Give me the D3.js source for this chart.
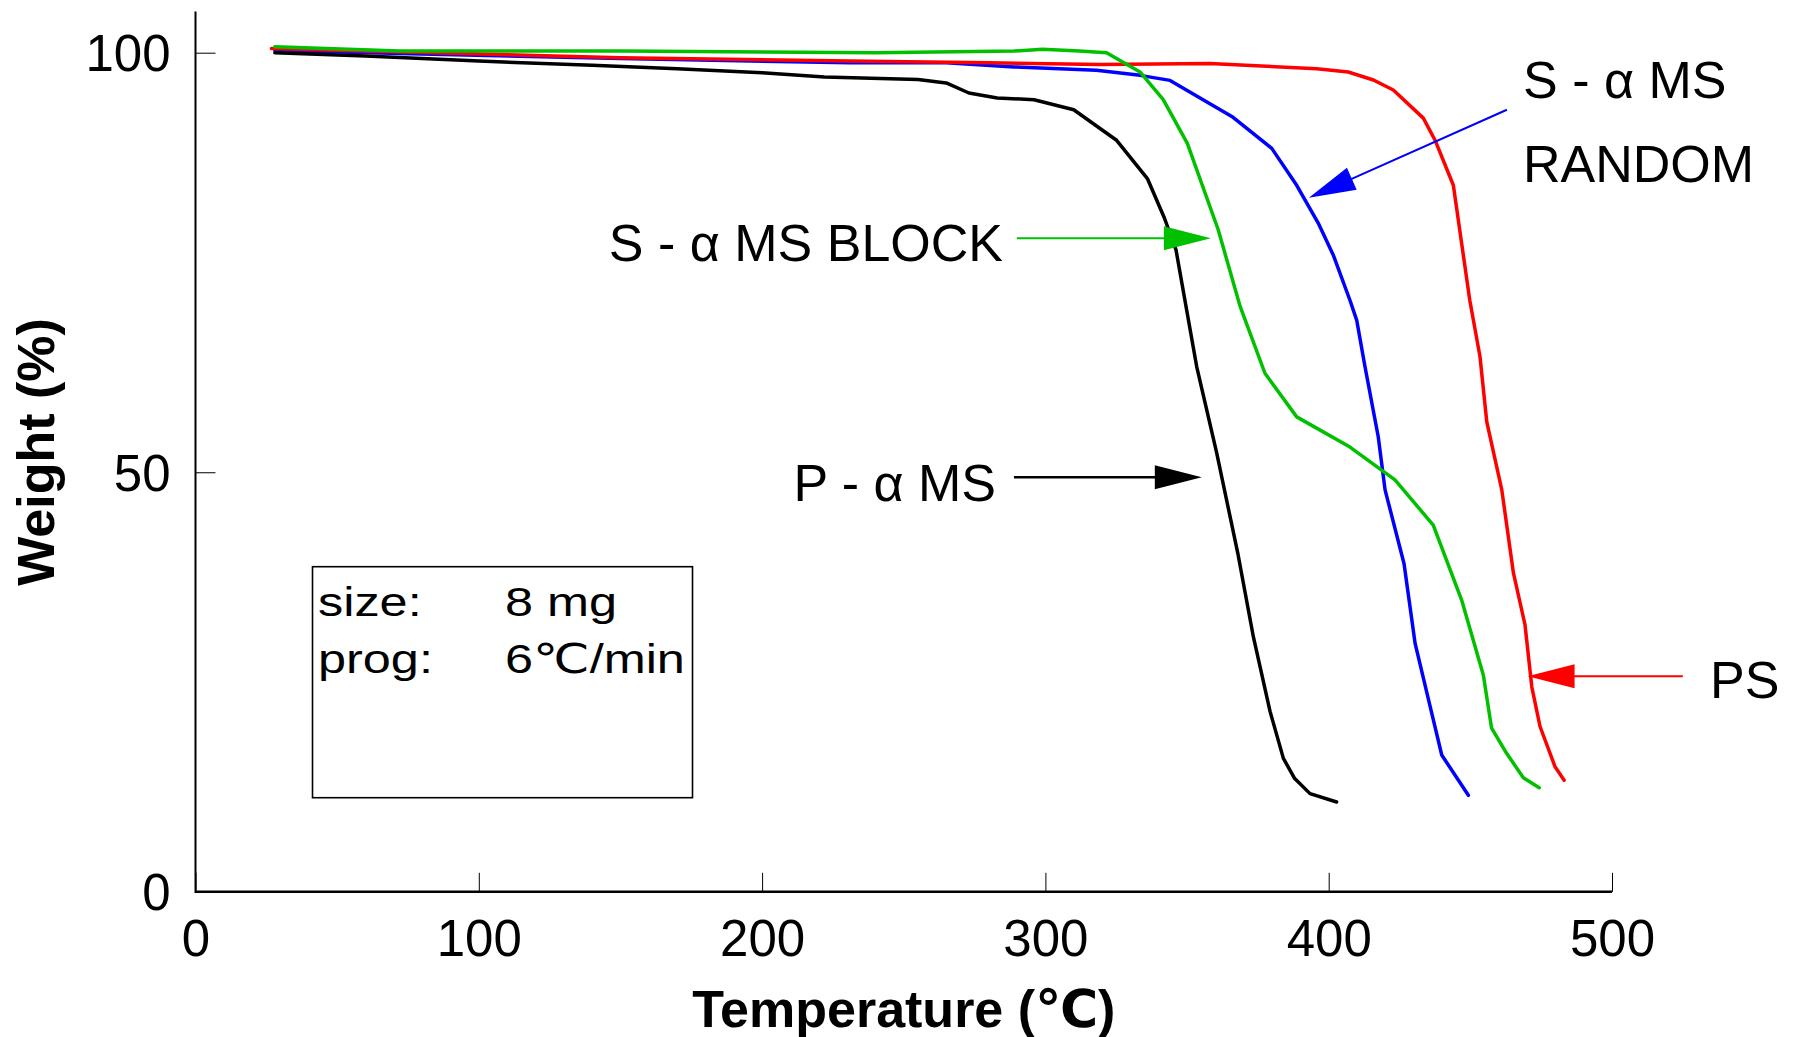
<!DOCTYPE html>
<html><head><meta charset="utf-8">
<script src="https://cdn.jsdelivr.net/npm/d3@7"></script>
<style>
html,body{margin:0;padding:0;background:#fff;}
svg{display:block;}
text{font-family:"Liberation Sans",Arial,Helvetica,"DejaVu Sans",sans-serif;fill:#000;}
</style></head><body>
<svg id="chart" width="1795" height="1037"></svg>
<script>
// ---------------- data ----------------
const xTickValues = [0, 100, 200, 300, 400, 500];
const yTickValues = [0, 50, 100];
const xTitle = "Temperature (℃)";
const yTitle = "Weight (%)";

const seriesNames = ["P - α MS", "S - α MS BLOCK", "S - α MS RANDOM", "PS"];

const tempPAMS   = [28, 60, 100, 140, 170, 200, 222, 255, 265, 273, 283, 296, 310, 325, 336, 342, 346.1, 353.4, 360.4, 368, 373.4, 379.3, 384, 388, 393.4, 402.8];
const weightPAMS = [100, 99.6, 99.0, 98.5, 98.1, 97.6, 97.1, 96.8, 96.4, 95.2, 94.6, 94.4, 93.2, 89.6, 85.0, 80.3, 76.5, 62.6, 52.4, 40.2, 30.4, 21.5, 15.9, 13.5, 11.7, 10.7];

const tempBlock   = [28, 72, 150, 240, 289, 299, 312, 321.6, 333.4, 341.6, 350.1, 361, 368.7, 377.5, 388.7, 407.5, 423.4, 436.9, 446.9, 454.6, 457.5, 462.8, 468.7, 474.3];
const weightBlock = [100.7, 100.2, 100.2, 100.0, 100.2, 100.4, 100.2, 100.0, 97.7, 94.4, 89.2, 78.9, 69.8, 61.8, 56.6, 53.0, 49.1, 43.7, 34.8, 25.8, 19.5, 16.5, 13.6, 12.4];

const tempRandom   = [28, 72, 150, 231, 265, 289, 318, 333.4, 344, 365.8, 379.9, 388.7, 396.3, 401.6, 407.5, 409.9, 412.8, 417.5, 419.9, 426.6, 430.5, 435.8, 439.9, 449.3];
const weightRandom = [100.3, 99.9, 99.3, 98.8, 98.8, 98.3, 97.9, 97.3, 96.7, 92.4, 88.6, 84.2, 79.7, 75.9, 70.5, 68.1, 62.6, 54.2, 47.9, 39.1, 29.6, 22.1, 16.3, 11.5];

const tempPS   = [26.8, 60, 150, 231, 280, 319, 358, 395.8, 406.9, 415.8, 422.8, 433.4, 437.5, 444, 449.8, 453.4, 455.8, 461.1, 465.2, 469.3, 471.7, 474.6, 479.9, 483.1];
const weightPS = [100.5, 100.2, 99.4, 99.0, 98.8, 98.6, 98.7, 98.1, 97.7, 96.75, 95.55, 92.2, 89.6, 84.2, 70.5, 63.8, 56.0, 47.9, 38.0, 31.8, 24.4, 19.7, 14.9, 13.3];

const infoLabels = ["size:", "prog:"];
const infoValues = ["8 mg", "6℃/min"];

// ---------------- styles / layout ----------------
const colors = {"P - α MS": "#000000", "S - α MS BLOCK": "#00c000", "S - α MS RANDOM": "#0000ff", "PS": "#ff0000"};
const W = 1795, H = 1037;
const plot = {left: 195.5, right: 1612, top: 52.7, bottom: 891.8};

// annotation arrows in data units (tail, tip), label anchors in px
const annot = [
  {series: "S - α MS BLOCK", tail: [289.9, 77.9], tip: [358.4, 77.9], lines: ["S - α MS BLOCK"], lx: 1003, ly: [261], anchor: "end", sw: 2},
  {series: "P - α MS",       tail: [288.9, 49.4], tip: [355.2, 49.4], lines: ["P - α MS"],       lx: 996,  ly: [501], anchor: "end", sw: 2.5},
  {series: "S - α MS RANDOM",tail: [462.9, 93.2], tip: [393.0, 82.7], lines: ["S - α MS", "RANDOM"], lx: 1523, ly: [98, 182], anchor: "start", sw: 2},
  {series: "PS",             tail: [525.0, 25.7], tip: [470.2, 25.7], lines: ["PS"],             lx: 1710, ly: [698], anchor: "start", sw: 2}
];

// ---------------- drawing ----------------
const svg = d3.select("#chart");
svg.append("rect").attr("width", W).attr("height", H).attr("fill", "#fff");

const x = d3.scaleLinear().domain([0, 500]).range([plot.left, plot.right]);
const y = d3.scaleLinear().domain([0, 100]).range([plot.bottom, plot.top]);

// x axis
const gx = svg.append("g").attr("transform", `translate(0,${plot.bottom})`)
  .call(d3.axisBottom(x).tickValues(xTickValues).tickSizeInner(-19).tickSizeOuter(0).tickPadding(0).tickFormat(d3.format("d")));
gx.select(".domain").remove();
gx.selectAll(".tick line").attr("stroke", "#000").attr("stroke-width", 1);
gx.selectAll(".tick text").attr("font-size", 51).attr("dy", null).attr("y", 64)
  .style("font-family", '"Liberation Sans",Arial,sans-serif');

// y axis
const gy = svg.append("g").attr("transform", `translate(${plot.left},0)`)
  .call(d3.axisLeft(y).tickValues(yTickValues).tickSizeInner(-20).tickSizeOuter(0).tickPadding(0).tickFormat(d3.format("d")));
gy.select(".domain").remove();
gy.selectAll(".tick line").attr("stroke", "#000").attr("stroke-width", 1);
gy.selectAll(".tick text").attr("font-size", 51).attr("dy", null).attr("x", -25).attr("y", 18)
  .style("font-family", '"Liberation Sans",Arial,sans-serif');

// axis lines
svg.append("line").attr("x1", x(0)).attr("x2", x(500)).attr("y1", y(0)).attr("y2", y(0))
  .attr("stroke", "#000").attr("stroke-width", 2.5);
svg.append("line").attr("x1", x(0)).attr("x2", x(0)).attr("y1", y(0) + 1.2).attr("y2", y(104.9))
  .attr("stroke", "#000").attr("stroke-width", 2);

// axis titles
svg.append("text").attr("x", (plot.left + plot.right) / 2).attr("y", 1027)
  .attr("text-anchor", "middle").attr("font-size", 52).attr("font-weight", "bold").text(xTitle);
svg.append("text").attr("transform", `translate(54,${452}) rotate(-90)`)
  .attr("text-anchor", "middle").attr("font-size", 52).attr("font-weight", "bold").text(yTitle);

// series
const seriesData = [
  {name: "S - α MS RANDOM", t: tempRandom, w: weightRandom},
  {name: "PS", t: tempPS, w: weightPS},
  {name: "S - α MS BLOCK", t: tempBlock, w: weightBlock},
  {name: "P - α MS", t: tempPAMS, w: weightPAMS}
];
const line = d3.line().x(d => x(d[0])).y(d => y(d[1]));
svg.append("g").selectAll("path").data(seriesData).join("path")
  .attr("d", s => line(s.t.map((t, i) => [t, s.w[i]])))
  .attr("fill", "none")
  .attr("stroke", s => colors[s.name])
  .attr("stroke-width", 3.5)
  .attr("stroke-linejoin", "round")
  .attr("stroke-linecap", "round");

// annotations
const headLen = 47, headHalf = 12;
annot.forEach(a => {
  const c = colors[a.series];
  const tx = x(a.tip[0]), ty = y(a.tip[1]);
  const sx = x(a.tail[0]), sy = y(a.tail[1]);
  const dx = tx - sx, dy = ty - sy, L = Math.hypot(dx, dy);
  const ux = dx / L, uy = dy / L;
  const bx = tx - ux * headLen, by = ty - uy * headLen;
  svg.append("line").attr("x1", sx).attr("y1", sy).attr("x2", bx + ux * 2).attr("y2", by + uy * 2)
    .attr("stroke", c).attr("stroke-width", a.sw);
  svg.append("polygon")
    .attr("points", [[tx, ty], [bx - uy * headHalf, by + ux * headHalf], [bx + uy * headHalf, by - ux * headHalf]].map(p => p.join(",")).join(" "))
    .attr("fill", c);
  a.lines.forEach((ln, i) => {
    svg.append("text").attr("x", a.lx).attr("y", a.ly[i]).attr("text-anchor", a.anchor)
      .attr("font-size", 52).text(ln);
  });
});

// info box
svg.append("rect").attr("x", 312.5).attr("y", 566.7).attr("width", 380).attr("height", 231)
  .attr("fill", "none").attr("stroke", "#000").attr("stroke-width", 1.6);
const ib = svg.append("g").attr("transform", "translate(318,0) scale(1.23,1)");
infoLabels.forEach((lbl, i) => {
  ib.append("text").attr("x", 0).attr("y", 616 + i * 56.7).attr("font-size", 41).text(lbl);
  ib.append("text").attr("x", (505 - 318) / 1.23).attr("y", 616 + i * 56.7).attr("font-size", 41).text(infoValues[i]);
});
</script>
</body></html>
